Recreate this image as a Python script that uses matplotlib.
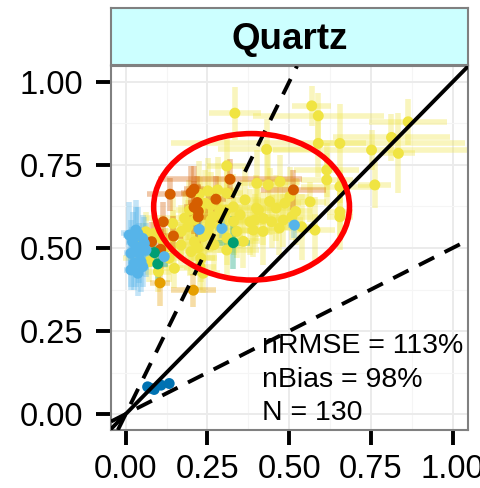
import numpy as np
import matplotlib
matplotlib.use("Agg")
import matplotlib.pyplot as plt
from matplotlib.patches import Ellipse
from matplotlib.ticker import MultipleLocator

plt.rcParams['font.family'] = ['Liberation Sans', 'DejaVu Sans']

# observed (x) vs modelled (y) with uncertainty, grouped by site colour
yellow_x = [0.334, 0.569, 0.589, 0.431, 0.589, 0.655, 0.752, 0.813, 0.834, 0.864,
            0.762, 0.615, 0.615, 0.655, 0.655, 0.655, 0.564, 0.309,
            0.401, 0.436, 0.472, 0.487, 0.502, 0.365, 0.309, 0.225, 0.251, 0.281,
            0.243, 0.329, 0.406, 0.395, 0.421, 0.380, 0.446, 0.482, 0.508, 0.538,
            0.579, 0.288, 0.258, 0.268, 0.288, 0.227, 0.237, 0.390, 0.309,
            0.062, 0.144, 0.144, 0.190, 0.210, 0.261, 0.251, 0.210, 0.169, 0.200,
            0.230, 0.149, 0.133, 0.108, 0.087, 0.072, 0.307, 0.261, 0.195, 0.237,
            0.100, 0.054, 0.227,
            0.350, 0.420, 0.460, 0.330, 0.180, 0.120, 0.310, 0.360, 0.440, 0.270,
            0.170, 0.220, 0.400, 0.470, 0.520, 0.290, 0.340]
yellow_y = [0.906, 0.928, 0.898, 0.797, 0.815, 0.815, 0.795, 0.833, 0.785, 0.880,
            0.690, 0.735, 0.705, 0.685, 0.609, 0.594, 0.639, 0.747,
            0.695, 0.690, 0.700, 0.635, 0.655, 0.645, 0.665, 0.662, 0.672, 0.675,
            0.635, 0.624, 0.614, 0.584, 0.589, 0.579, 0.579, 0.584, 0.594, 0.564,
            0.554, 0.564, 0.569, 0.594, 0.614, 0.614, 0.534, 0.554, 0.494,
            0.549, 0.574, 0.534, 0.564, 0.584, 0.584, 0.544, 0.519, 0.509, 0.489,
            0.469, 0.439, 0.469, 0.529, 0.544, 0.459, 0.614, 0.629, 0.614, 0.424,
            0.429, 0.524, 0.444,
            0.600, 0.550, 0.620, 0.580, 0.590, 0.500, 0.530, 0.520, 0.640, 0.510,
            0.550, 0.500, 0.620, 0.560, 0.610, 0.600, 0.550]
yellow_xerr = [0.08, 0.06, 0.20, 0.15, 0.45, 0.08, 0.30, 0.18, 0.05, 0.12,
               0.05, 0.10, 0.08, 0.12, 0.04, 0.04, 0.05, 0.06,
               0.05, 0.06, 0.06, 0.05, 0.06, 0.05, 0.05, 0.05, 0.05, 0.05,
               0.04, 0.05, 0.06, 0.05, 0.05, 0.05, 0.05, 0.06, 0.08, 0.05,
               0.06, 0.04, 0.05, 0.05, 0.04, 0.04, 0.05, 0.05, 0.10,
               0.04, 0.05, 0.05, 0.04, 0.04, 0.05, 0.05, 0.04, 0.04, 0.05,
               0.05, 0.05, 0.14, 0.04, 0.04, 0.04, 0.05, 0.04, 0.04, 0.05,
               0.04, 0.04, 0.05,
               0.06, 0.05, 0.05, 0.05, 0.12, 0.04, 0.05, 0.05, 0.05, 0.04,
               0.05, 0.05, 0.06, 0.05, 0.05, 0.05, 0.05]
yellow_yerr = [0.08, 0.06, 0.07, 0.09, 0.10, 0.12, 0.06, 0.07, 0.12, 0.07,
               0.07, 0.08, 0.08, 0.05, 0.08, 0.10, 0.06, 0.10,
               0.10, 0.10, 0.08, 0.08, 0.09, 0.10, 0.10, 0.10, 0.10, 0.10,
               0.10, 0.10, 0.08, 0.08, 0.08, 0.10, 0.08, 0.08, 0.07, 0.10,
               0.10, 0.08, 0.08, 0.08, 0.10, 0.10, 0.08, 0.08, 0.08,
               0.06, 0.08, 0.08, 0.08, 0.08, 0.08, 0.08, 0.07, 0.07, 0.07,
               0.07, 0.06, 0.07, 0.06, 0.06, 0.06, 0.10, 0.10, 0.09, 0.06,
               0.06, 0.05, 0.07,
               0.10, 0.10, 0.10, 0.10, 0.08, 0.06, 0.08, 0.08, 0.10, 0.08,
               0.08, 0.08, 0.10, 0.08, 0.10, 0.08, 0.08]

red_x = [0.136, 0.200, 0.209, 0.219, 0.209, 0.222, 0.276, 0.319, 0.513,
         0.146, 0.107, 0.079, 0.115, 0.222]
red_y = [0.662, 0.667, 0.677, 0.637, 0.623, 0.594, 0.647, 0.707, 0.675,
         0.536, 0.496, 0.519, 0.579, 0.610]
red_xerr = [0.07, 0.03, 0.03, 0.03, 0.03, 0.03, 0.03, 0.22, 0.10,
            0.03, 0.03, 0.03, 0.03, 0.03]
red_yerr = [0.05, 0.08, 0.07, 0.08, 0.08, 0.10, 0.07, 0.06, 0.06,
            0.06, 0.06, 0.06, 0.06, 0.08]

orange_x = [0.105, 0.207]
orange_y = [0.395, 0.373]
orange_xerr = [0.03, 0.07]
orange_yerr = [0.07, 0.05]

green_x = [0.088, 0.098, 0.329]
green_y = [0.486, 0.452, 0.516]
green_xerr = [0.03, 0.03, 0.05]
green_yerr = [0.04, 0.05, 0.08]

blue_x = [0.011, 0.021, 0.037, 0.052, 0.031, 0.016, 0.042, 0.057, 0.026, 0.047,
          0.016, 0.037, 0.052, 0.062, 0.031, 0.225, 0.118, 0.516, 0.294]
blue_y = [0.539, 0.519, 0.544, 0.529, 0.504, 0.484, 0.484, 0.514, 0.454, 0.459,
          0.434, 0.424, 0.444, 0.494, 0.554, 0.556, 0.474, 0.569, 0.559]
blue_xerr = [0.02, 0.02, 0.05, 0.02, 0.02, 0.02, 0.02, 0.02, 0.02, 0.02,
             0.02, 0.02, 0.02, 0.02, 0.02, 0.02, 0.02, 0.02, 0.02]
blue_yerr = [0.10, 0.09, 0.08, 0.07, 0.12, 0.10, 0.09, 0.08, 0.08, 0.09,
             0.06, 0.07, 0.06, 0.08, 0.09, 0.03, 0.03, 0.04, 0.03]

navy_x = [0.067, 0.075, 0.087, 0.108, 0.133]
navy_y = [0.082, 0.078, 0.074, 0.087, 0.092]

groups = [
    (yellow_x, yellow_y, yellow_xerr, yellow_yerr, "#F0E442"),
    (red_x, red_y, red_xerr, red_yerr, "#D55E00"),
    (orange_x, orange_y, orange_xerr, orange_yerr, "#E69F00"),
    (green_x, green_y, green_xerr, green_yerr, "#009E73"),
    (blue_x, blue_y, blue_xerr, blue_yerr, "#56B4E9"),
    (navy_x, navy_y, [0.0] * 5, [0.0] * 5, "#0072B2"),
]

stats = ["nRMSE = 113%", "nBias = 98%", "N = 130"]

fig = plt.figure(figsize=(4.81, 4.88), dpi=100)
ax = fig.add_axes([111 / 481, 58 / 488, 357 / 481, 364 / 488])

for gx, gy, gxe, gye, col in groups:
    ax.errorbar(gx, gy, xerr=gxe, yerr=gye, fmt="none", ecolor=col,
                alpha=0.35, elinewidth=4, capsize=0, zorder=2)
for gx, gy, gxe, gye, col in groups:
    ax.scatter(gx, gy, s=62, color=col, edgecolors="none", zorder=3)

# 1:1 and factor-of-two lines
dash = (0, (4.4, 3))
ax.axline((0, 0), slope=1, color="black", lw=2.8, zorder=4)
ax.axline((0, 0), slope=2, color="black", lw=2.8, ls=dash, zorder=4)
ax.axline((0, 0), slope=0.5, color="black", lw=2.8, ls=dash, zorder=4)

ax.add_patch(Ellipse((0.385, 0.624), 0.599, 0.441, fill=False,
                     ec="#FF0000", lw=4, zorder=5))

for i, s in enumerate(stats):
    ax.text(0.416, 0.183 - 0.1005 * i, s, fontsize=20.5,
            ha="left", va="baseline", zorder=6)

ax.set_xlim(-0.045, 1.047)
ax.set_ylim(-0.048, 1.048)
ticks = [0, 0.25, 0.5, 0.75, 1.0]
ax.set_xticks(ticks)
ax.set_yticks(ticks)
ax.set_xticklabels(["0.00", "0.25", "0.50", "0.75", "1.00"])
ax.set_yticklabels(["0.00", "0.25", "0.50", "0.75", "1.00"])
ax.xaxis.set_minor_locator(MultipleLocator(0.125))
ax.yaxis.set_minor_locator(MultipleLocator(0.125))
ax.grid(which="major", color="#EBEBEB", lw=1.4, zorder=0)
ax.grid(which="minor", color="#F5F5F5", lw=0.8, zorder=0)
ax.set_axisbelow(True)
ax.tick_params(which="major", length=11, width=2.8, color="black",
               labelsize=23.5, pad=6)
ax.tick_params(axis="y", pad=9)
ax.tick_params(which="minor", length=0)
for sp in ax.spines.values():
    sp.set_color("#808080")
    sp.set_linewidth(1.5)

strip = fig.add_axes([111 / 481, 423 / 488, 357 / 481, 57 / 488])
strip.set_facecolor("#CCFFFF")
strip.set_xticks([])
strip.set_yticks([])
for sp in strip.spines.values():
    sp.set_color("#808080")
    sp.set_linewidth(1.5)
strip.text(0.5, 0.45, "Quartz", fontsize=26.5, fontweight="bold",
           ha="center", va="center", transform=strip.transAxes)

fig.savefig("out.png", dpi=100)
